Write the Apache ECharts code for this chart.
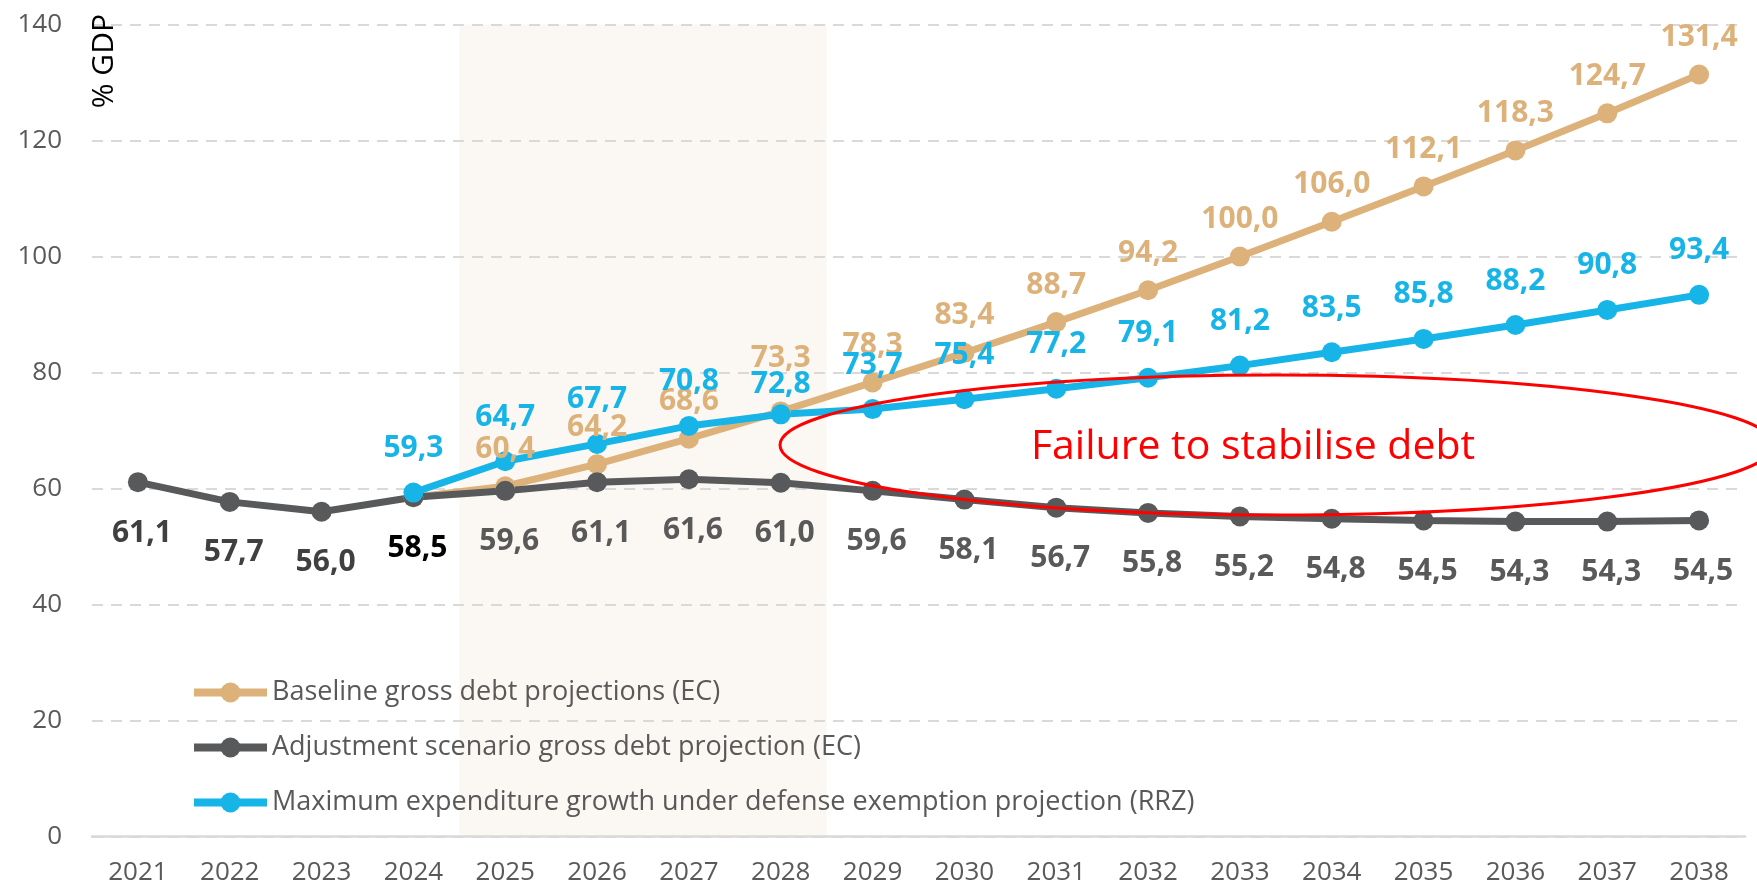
<!DOCTYPE html>
<html>
<head>
<meta charset="utf-8">
<title>Gross debt projections</title>
<script src="https://cdn.jsdelivr.net/npm/echarts@6/dist/echarts.min.js"></script>
<style>
  html, body { margin: 0; padding: 0; background: #fff; }
  #debt_chart { width: 1757px; height: 890px; }
</style>
</head>
<body>
<div id="debt_chart"></div>
<script>
/* gross debt, % of GDP */
var years = ['2021', '2022', '2023', '2024', '2025', '2026', '2027', '2028', '2029',
  '2030', '2031', '2032', '2033', '2034', '2035', '2036', '2037', '2038'];

// Baseline gross debt projections (EC)
var baseline = ['-', '-', '-', 58.5, 60.4, 64.2, 68.6, 73.3, 78.3,
  83.4, 88.7, 94.2, 100.0, 106.0, 112.1, 118.3, 124.7, 131.4];

// Adjustment scenario gross debt projection (EC)
var adjustment = [61.1, 57.7, 56.0, 58.5, 59.6, 61.1, 61.6, 61.0, 59.6,
  58.1, 56.7, 55.8, 55.2, 54.8, 54.5, 54.3, 54.3, 54.5];

// Maximum expenditure growth under defense exemption projection (RRZ)
var defense = ['-', '-', '-', 59.3, 64.7, 67.7, 70.8, 72.8, 73.7,
  75.4, 77.2, 79.1, 81.2, 83.5, 85.8, 88.2, 90.8, 93.4];

// shaded years
var shadedYears = ['2025', '2026', '2027', '2028'];

var yTicks = { min: 0, max: 140, interval: 20 };

var seriesNames = [
  'Baseline gross debt projections (EC)',
  'Adjustment scenario gross debt projection (EC)',
  'Maximum expenditure growth under defense exemption projection (RRZ)'
];

var FONT = 'Open Sans';
var LABEL_SIZE = 30;

/**
 * 61.1 -> "61,1"
 */
function fmt(v){
  return Number(v).toFixed(1).replace('.', ',');
}

function lineSeries(name, data, color){
  return {
    name: name,
    type: 'line',
    data: data,
    symbol: 'circle',
    symbolSize: 20,
    showSymbol: true,
    showAllSymbol: true,
    lineStyle: { width: 7, color: color },
    itemStyle: { color: color },
    emphasis: { disabled: true },
    label: {
      show: true,
      fontFamily: FONT,
      fontSize: LABEL_SIZE,
      fontWeight: 'bold',
      color: color
    }
  };
}

var chart = echarts.init(document.getElementById('debt_chart'));

var shade = years.map(function(y){
  return shadedYears.indexOf(y) >= 0 ? yTicks.max : '-';
});

var sBase = lineSeries(seriesNames[0], baseline, '#DDB27A');
sBase.label.position = 'top';
sBase.label.distance = 12;
sBase.label.offset = [-16, 0];
sBase.label.formatter = function(p){
  // 2024 point is hidden under the others
  return p.name === '2024' ? '' : fmt(p.value);
};
sBase.labelLayout = function(p){
  // 2028: lift above the blue label
  return years[p.dataIndex] === '2028' ? { dy: -16 } : {};
};

var sAdj = lineSeries(seriesNames[1], adjustment, '#58595B');
sAdj.label.position = 'bottom';
sAdj.label.distance = 26;
sAdj.label.offset = [4, 0];
sAdj.label.formatter = function(p){
  var k = p.name < '2024' ? 'hist' : (p.name === '2024' ? 'now' : 'proj');
  return '{' + k + '|' + fmt(p.value) + '}';
};
sAdj.label.rich = {
  hist: { color: '#404040', fontFamily: FONT, fontSize: LABEL_SIZE, fontWeight: 'bold' },
  now: { color: '#000000', fontFamily: FONT, fontSize: LABEL_SIZE, fontWeight: 'bold' },
  proj: { color: '#595959', fontFamily: FONT, fontSize: LABEL_SIZE, fontWeight: 'bold' }
};

var sDef = lineSeries(seriesNames[2], defense, '#17B4E8');
sDef.label.position = 'top';
sDef.label.distance = 19;
sDef.label.formatter = function(p){ return fmt(p.value); };
sDef.labelLayout = function(p){
  return years[p.dataIndex] === '2028' ? { dy: 14 } : {};
};

var option = {
  animation: false,
  grid: { left: 92, right: 12, top: 24.6, bottom: 53.5, containLabel: false },
  legend: {
    data: seriesNames,
    orient: 'vertical',
    left: 190,
    top: 679,
    padding: 0,
    itemWidth: 73,
    itemHeight: 25,
    itemGap: 28,
    lineStyle: { width: 8 },
    textStyle: { fontFamily: FONT, fontSize: 27, color: '#595959' },
    selectedMode: false
  },
  xAxis: {
    type: 'category',
    data: years,
    boundaryGap: true,
    axisLine: { lineStyle: { color: '#D9D9D9', width: 2.5 } },
    axisTick: { show: false },
    axisLabel: { fontFamily: FONT, fontSize: 26, color: '#595959', margin: 23 }
  },
  yAxis: {
    type: 'value',
    min: yTicks.min,
    max: yTicks.max,
    interval: yTicks.interval,
    axisLine: { show: false },
    axisTick: { show: false },
    axisLabel: { fontFamily: FONT, fontSize: 26, color: '#595959', margin: 30 },
    splitLine: { lineStyle: { color: '#D9D9D9', width: 2, type: [11, 8] } }
  },
  series: [
    {
      name: 'shade',
      type: 'bar',
      data: shade,
      barWidth: '100%',
      z: -1,
      silent: true,
      itemStyle: { color: '#FBF8F3' }
    },
    sBase,
    sAdj,
    sDef
  ],
  graphic: [
    {
      type: 'text',
      left: 89,
      top: 14,
      rotation: Math.PI / 2,
      style: { text: '% GDP', fontFamily: FONT, fontSize: 30, fill: '#000' },
      z: 10
    },
    {
      type: 'ellipse',
      shape: { cx: 1277, cy: 445, rx: 497, ry: 70 },
      style: { fill: 'none', stroke: '#FF0000', lineWidth: 3 },
      silent: true,
      z: 10
    },
    {
      type: 'text',
      x: 1253,
      y: 447,
      style: {
        text: 'Failure to stabilise debt',
        fontFamily: FONT, fontSize: 41, fill: '#FF0000',
        align: 'center', verticalAlign: 'middle'
      },
      z: 10
    }
  ]
};

chart.setOption(option);
</script>
</body>
</html>
